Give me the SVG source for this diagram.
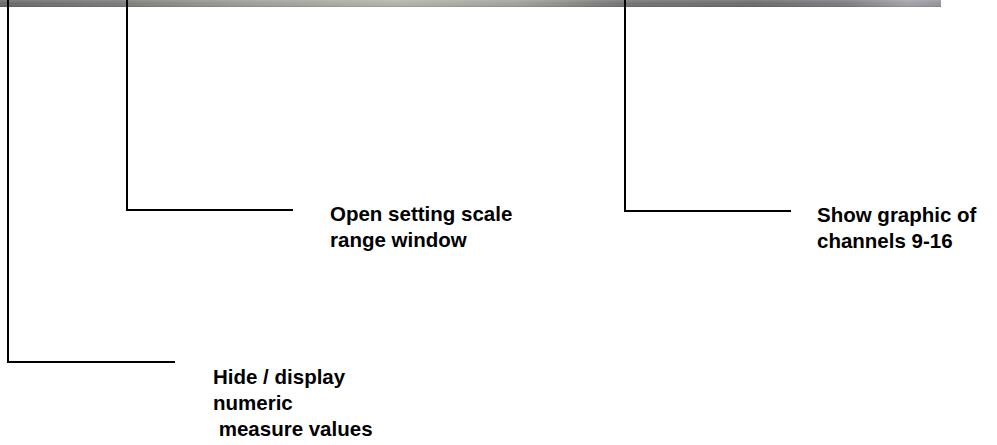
<svg xmlns="http://www.w3.org/2000/svg" width="997" height="445" viewBox="0 0 997 445">
  <defs>
    <linearGradient id="barH" x1="0" y1="0" x2="1" y2="0">
      <stop offset="0" stop-color="#6a6a6a"/>
      <stop offset="0.12" stop-color="#7a7a78"/>
      <stop offset="0.25" stop-color="#9c9c96"/>
      <stop offset="0.42" stop-color="#b4b4ac"/>
      <stop offset="0.55" stop-color="#a2a29c"/>
      <stop offset="0.66" stop-color="#747473"/>
      <stop offset="0.8" stop-color="#6c6c6e"/>
      <stop offset="0.9" stop-color="#7e7e82"/>
      <stop offset="0.965" stop-color="#a2a2aa"/>
      <stop offset="1" stop-color="#94949c"/>
    </linearGradient>
    <linearGradient id="barV" x1="0" y1="0" x2="0" y2="1">
      <stop offset="0" stop-color="#ffffff" stop-opacity="0.15"/>
      <stop offset="0.5" stop-color="#ffffff" stop-opacity="0"/>
      <stop offset="1" stop-color="#000000" stop-opacity="0.15"/>
    </linearGradient>
  </defs>
  <style>
    .lbl { font-family: "Liberation Sans", Arial, sans-serif; font-weight: bold; font-size: 20.5px; fill: #000; }
    .conn { fill: none; stroke: #000; stroke-width: 2; }
  </style>
  <rect width="997" height="445" fill="#ffffff"/>
  <rect x="0" y="0" width="941" height="7" fill="url(#barH)"/>
  <rect x="0" y="0" width="941" height="7" fill="url(#barV)"/>
  <g id="connectors">
    <polyline class="conn" points="8,0 8,362 175,362"/>
    <polyline class="conn" points="127,0 127,210 293,210"/>
    <polyline class="conn" points="625,0 625,211 791,211"/>
  </g>
  <g id="node-scale">
    <text class="lbl" x="330" y="221">Open setting scale</text>
    <text class="lbl" x="330" y="247">range window</text>
  </g>
  <g id="node-channels">
    <text class="lbl" x="817" y="222">Show graphic of</text>
    <text class="lbl" x="817" y="248">channels 9-16</text>
  </g>
  <g id="node-numeric">
    <text class="lbl" x="213" y="384">Hide / display</text>
    <text class="lbl" x="213" y="410">numeric</text>
    <text class="lbl" x="213" y="436" xml:space="preserve"> measure values</text>
  </g>
</svg>
